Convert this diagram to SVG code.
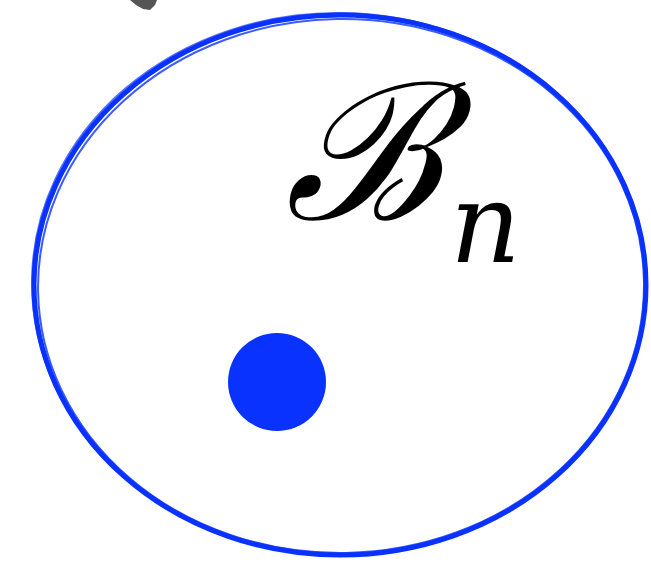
<svg xmlns="http://www.w3.org/2000/svg" width="651" height="567" viewBox="0 0 651 567">
<style>
.ring{fill:none;stroke:#0a32ff;stroke-linecap:round}
.lbl{font-family:"DejaVu Serif","Liberation Serif",serif;fill:#000}
</style>
<rect width="651" height="567" fill="#fff"/>
<g id="connectors">
<path d="M130,0 L157,0 L155,5 L150,10 L143,9 L136,5 Z" fill="#555"/>
</g>
<g id="set-Bn">
<ellipse class="ring" cx="340" cy="285" rx="306" ry="270" stroke-width="5"/>
<ellipse class="ring" cx="341" cy="286" rx="303" ry="267" stroke-width="2" transform="rotate(-1 340 285)" opacity="0.8"/>
<ellipse class="ring" cx="339" cy="284" rx="307" ry="271" stroke-width="2" transform="rotate(1 340 285)" opacity="0.7"/>
<text class="lbl" x="284" y="219" font-size="190" font-style="italic">ℬ</text>
<text class="lbl" x="450" y="262" font-size="110" font-style="italic" font-family="Liberation Serif">n</text>
</g>
<g id="point">
<circle cx="277" cy="382" r="49" fill="#0a32ff"/>
</g>
</svg>
